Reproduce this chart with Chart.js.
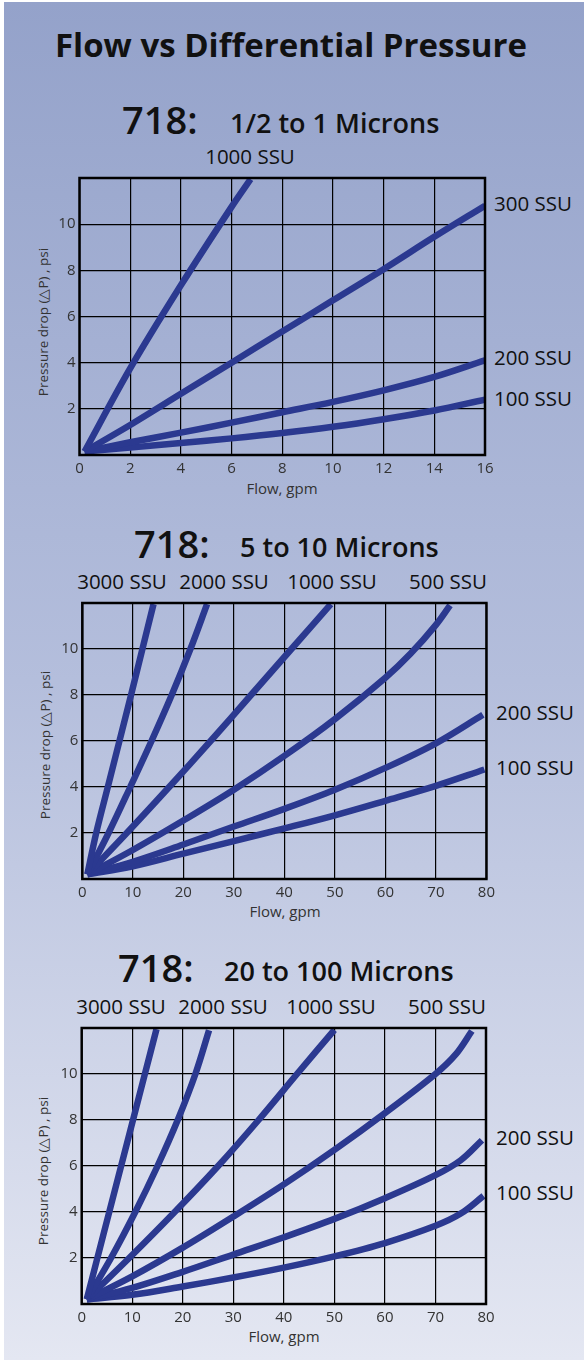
<!DOCTYPE html>
<html>
<head>
<meta charset="utf-8">
<script src="https://cdn.jsdelivr.net/npm/chart.js@4.4.0/dist/chart.umd.min.js"></script>
<style>
  html, body { margin: 0; padding: 0; background: #fff; }
  #page { position: relative; width: 587px; height: 1361px; overflow: hidden; background: #fff; }
  #bg { position: absolute; left: 4px; top: 2px; width: 580px; height: 1358px;
        background: linear-gradient(#94a2ca, #b4bedc 50%, #e4e7f2); }
  .t { position: absolute; white-space: nowrap; font-family: 'Open Sans', sans-serif; color: #111;
       transform: translateY(-50%); }
  .c { transform: translate(-50%, -50%); }
  .main { font-size: 33px; font-weight: 700; }
  .num { font-size: 38px; font-weight: 600; }
  .sub { font-size: 27px; font-weight: 600; }
  .ssu { font-size: 20.5px; }
  .ax { font-size: 15px; color: #333; }
  .ay { font-size: 13.5px; color: #333; }
  .rot { transform: translate(-50%, -50%) rotate(-90deg); }
  canvas { position: absolute; }
</style>
</head>
<body>
<div id="page">
  <div id="bg"></div>

  <div class="t c main" style="left:291px;top:44px">Flow vs Differential Pressure</div>

  <!-- chart 1 -->
  <div class="t num" style="left:122px;top:119px">718:</div>
  <div class="t sub" style="left:230px;top:122px">1/2 to 1 Microns</div>
  <div class="t c ssu" style="left:250px;top:156px">1000 SSU</div>
  <div class="t ssu" style="left:494px;top:203px">300 SSU</div>
  <div class="t ssu" style="left:494px;top:357px">200 SSU</div>
  <div class="t ssu" style="left:494px;top:398px">100 SSU</div>
  <div class="t c ay rot" style="left:43px;top:322px">Pressure drop (△P) , psi</div>
  <div class="t c ax" style="left:282px;top:488px">Flow, gpm</div>
  <canvas id="chart1"></canvas>

  <!-- chart 2 -->
  <div class="t num" style="left:134px;top:543px">718:</div>
  <div class="t sub" style="left:240px;top:546px">5 to 10 Microns</div>
  <div class="t c ssu" style="left:122px;top:581px">3000 SSU</div>
  <div class="t c ssu" style="left:224px;top:581px">2000 SSU</div>
  <div class="t c ssu" style="left:332px;top:581px">1000 SSU</div>
  <div class="t c ssu" style="left:448px;top:581px">500 SSU</div>
  <div class="t ssu" style="left:496px;top:712px">200 SSU</div>
  <div class="t ssu" style="left:496px;top:767px">100 SSU</div>
  <div class="t c ay rot" style="left:45px;top:745px">Pressure drop (△P) , psi</div>
  <div class="t c ax" style="left:285px;top:911px">Flow, gpm</div>
  <canvas id="chart2"></canvas>

  <!-- chart 3 -->
  <div class="t num" style="left:118px;top:967px">718:</div>
  <div class="t sub" style="left:224px;top:970px">20 to 100 Microns</div>
  <div class="t c ssu" style="left:121px;top:1006px">3000 SSU</div>
  <div class="t c ssu" style="left:223px;top:1006px">2000 SSU</div>
  <div class="t c ssu" style="left:331px;top:1006px">1000 SSU</div>
  <div class="t c ssu" style="left:447px;top:1006px">500 SSU</div>
  <div class="t ssu" style="left:496px;top:1137px">200 SSU</div>
  <div class="t ssu" style="left:496px;top:1192px">100 SSU</div>
  <div class="t c ay rot" style="left:43px;top:1171px">Pressure drop (△P) , psi</div>
  <div class="t c ax" style="left:284px;top:1336px">Flow, gpm</div>
  <canvas id="chart3"></canvas>
</div>

<script>
/* ===== DATA ===== */
// [flow gpm, pressure drop psi]
const c1_1000 = [[0.2,0.15],[2,3.75],[4,7.35],[6,10.75],[6.75,11.95]];
const c1_300  = [[0.2,0.15],[2,1.3],[4,2.65],[6,4.0],[8,5.35],[10,6.7],[12,8.05],[14,9.45],[16,10.8]];
const c1_200  = [[0.2,0.15],[2,0.55],[4,0.97],[6,1.4],[8,1.85],[10,2.3],[12,2.8],[14,3.38],[16,4.1]];
const c1_100  = [[0.2,0.15],[2,0.32],[4,0.52],[6,0.72],[8,0.95],[10,1.22],[12,1.55],[14,1.93],[16,2.4]];

const c2_3000 = [[1,0.2],[2.75,2],[5.05,4],[7.35,6],[9.65,8],[11.9,10],[14.1,11.95]];
const c2_2000 = [[1,0.2],[5.2,2],[9.5,4],[13.7,6],[17.7,8],[21.4,10],[24.7,11.95]];
const c2_1000 = [[1,0.2],[8.8,2],[17.2,4],[25.4,6],[33.4,8],[41.4,10],[49.2,11.95]];
const c2_500  = [[1,0.2],[10,1.26],[20,2.54],[30,3.88],[40,5.35],[50,6.95],[60,8.75],[65,9.8],[70,11.05],[72.8,11.9]];
const c2_200  = [[1,0.2],[10,0.75],[20,1.5],[30,2.28],[40,3.05],[50,3.88],[60,4.83],[70,5.9],[79.3,7.14]];
const c2_100  = [[1,0.2],[10,0.55],[20,1.1],[30,1.65],[40,2.2],[50,2.77],[60,3.4],[70,4.05],[79.6,4.76]];

const c3_3000 = [[1,0.2],[3.1,2],[5.45,4],[7.8,6],[10.15,8],[12.5,10],[14.8,11.95]];
const c3_2000 = [[1,0.2],[5.8,2],[10.6,4],[15.0,6],[19.0,8],[22.5,10],[25.2,11.9]];
const c3_1000 = [[1,0.2],[9.4,2],[18.4,4],[27.0,6],[35.0,8],[42.6,10],[50,11.92]];
const c3_500  = [[1,0.2],[10,1.2],[20,2.45],[30,3.8],[40,5.2],[50,6.7],[60,8.3],[70,10.0],[74,10.85],[77.2,11.87]];
const c3_200  = [[1,0.2],[10,0.7],[20,1.4],[30,2.15],[40,2.9],[50,3.7],[60,4.6],[70,5.6],[75,6.25],[79.2,7.12]];
const c3_100  = [[1,0.2],[10,0.4],[20,0.76],[30,1.15],[40,1.58],[50,2.07],[60,2.65],[70,3.4],[75,3.93],[79.5,4.7]];

const flowTicks1 = [0,2,4,6,8,10,12,14,16];
const flowTicks2 = [0,10,20,30,40,50,60,70,80];
const dpGrid   = [0,2,4,6,8,10,12];
const dpLabels = [2,4,6,8,10];

/* ===== CHARTS ===== */
const BLUE = '#2b3990';

// frame around the plot area, drawn over the curves
const framePlugin = {
  id: 'frame',
  afterDatasetsDraw(chart) {
    const a = chart.chartArea, ctx = chart.ctx;
    ctx.save();
    ctx.strokeStyle = '#000';
    ctx.lineWidth = 2.5;
    ctx.strokeRect(a.left, a.top, a.right - a.left, a.bottom - a.top);
    ctx.restore();
  }
};

function makeChart(id, box, series, flowTicks, plot) {
  const el = document.getElementById(id);
  el.style.left = box.x + 'px';
  el.style.top = box.y + 'px';
  el.width = box.w; el.height = box.h;
  el.style.width = box.w + 'px'; el.style.height = box.h + 'px';

  new Chart(el, {
    type: 'scatter',
    data: {
      datasets: series.map(s => ({
        data: s.map(p => ({ x: p[0], y: p[1] })),
        showLine: true,
        borderColor: BLUE,
        borderWidth: 6.5,
        borderCapStyle: 'butt',
        pointRadius: 0,
        tension: 0.35
      }))
    },
    plugins: [framePlugin],
    options: {
      responsive: false, animation: false,
      layout: { padding: { top: plot.top - box.y, right: box.x + box.w - plot.right, left: 0, bottom: 0 } },
      plugins: { legend: { display: false }, tooltip: { enabled: false } },
      scales: {
        x: {
          type: 'linear', min: flowTicks[0], max: flowTicks[flowTicks.length - 1],
          afterBuildTicks: s => { s.ticks = flowTicks.map(v => ({ value: v })); },
          afterFit: s => { s.height = box.y + box.h - plot.bottom; },
          grid: { color: '#000', lineWidth: 1.2, drawTicks: false },
          border: { display: false },
          ticks: { padding: 5, color: '#333', font: { family: "'Open Sans', sans-serif", size: 15 } }
        },
        y: {
          type: 'linear', min: 0, max: 12,
          afterBuildTicks: s => { s.ticks = dpGrid.map(v => ({ value: v })); },
          afterFit: s => { s.width = plot.left - box.x; },
          grid: { color: '#000', lineWidth: 1.2, drawTicks: false },
          border: { display: false },
          ticks: {
            padding: 4, color: '#333', font: { family: "'Open Sans', sans-serif", size: 15 },
            callback: v => dpLabels.includes(v) ? String(v) : ''
          }
        }
      }
    }
  });
}

makeChart('chart1', { x: 20, y: 165, w: 480, h: 340 },
  [c1_1000, c1_300, c1_200, c1_100], flowTicks1,
  { left: 79.5, top: 173, right: 485, bottom: 455 });

makeChart('chart2', { x: 20, y: 590, w: 480, h: 339 },
  [c2_3000, c2_2000, c2_1000, c2_500, c2_200, c2_100], flowTicks2,
  { left: 82.3, top: 598, right: 487, bottom: 879 });

makeChart('chart3', { x: 20, y: 1015, w: 480, h: 339 },
  [c3_3000, c3_2000, c3_1000, c3_500, c3_200, c3_100], flowTicks2,
  { left: 81.7, top: 1023, right: 486, bottom: 1304 });
</script>
</body>
</html>
